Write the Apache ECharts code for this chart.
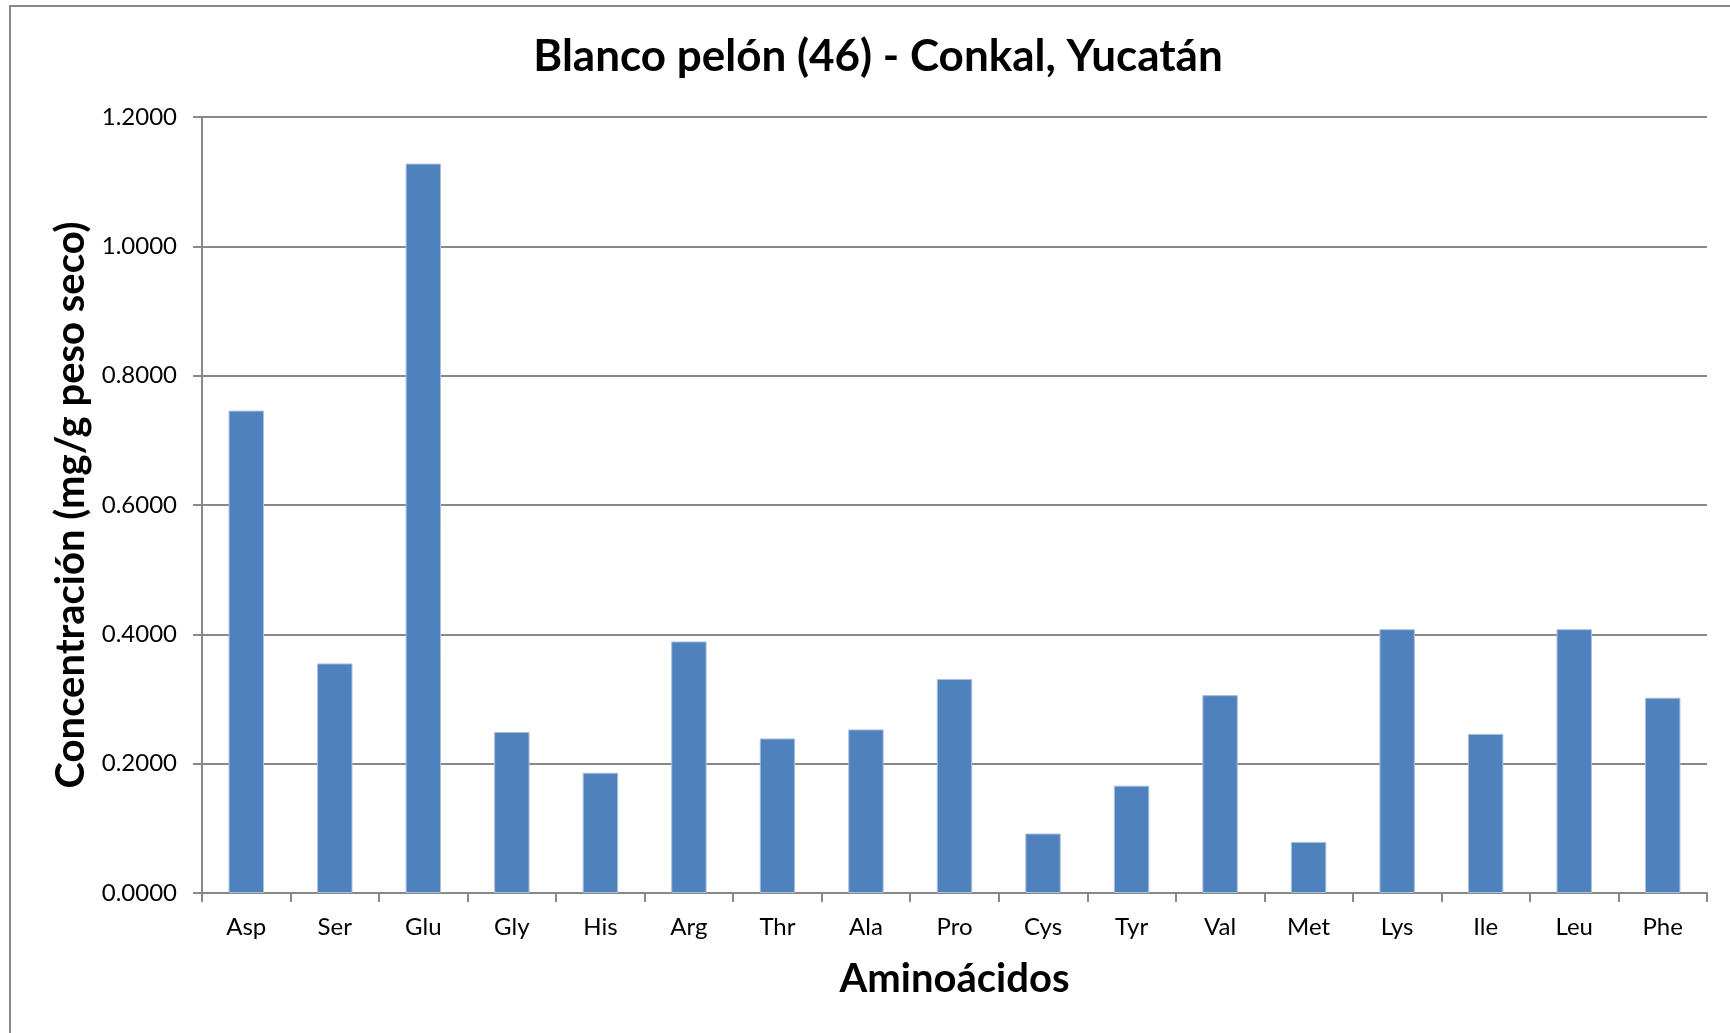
<!DOCTYPE html>
<html>
<head>
<meta charset="utf-8">
<script src="https://cdn.jsdelivr.net/npm/echarts@6/dist/echarts.min.js"></script>
<style>
  html, body { margin: 0; padding: 0; background: #fff; }
  #chart { width: 1730px; height: 1033px; }
</style>
</head>
<body>
<div id="chart"></div>
<script>
// amino acids on the x axis
const aminoacids = ["Asp", "Ser", "Glu", "Gly", "His", "Arg", "Thr", "Ala", "Pro",
  "Cys", "Tyr", "Val", "Met", "Lys", "Ile", "Leu", "Phe"];
// concentration, mg/g dry weight
const concentracion = [0.746, 0.355, 1.128, 0.249, 0.186, 0.389, 0.239, 0.253, 0.331,
  0.092, 0.166, 0.306, 0.079, 0.408, 0.246, 0.408, 0.302];
const yTicks = [0, 0.2, 0.4, 0.6, 0.8, 1.0, 1.2];

const chart = echarts.init(document.getElementById("chart"));
const font = "Lato, 'Open Sans', sans-serif";
const grey = "#888888";

const option = {
  backgroundColor: "#ffffff",
  animation: false,
  textStyle: { fontFamily: font },
  title: {
    text: "Blanco pelón (46) - Conkal, Yucatán",
    left: 873,
    top: 30,
    textAlign: "center",
    textStyle: { fontFamily: font, fontSize: 44, fontWeight: "bold", color: "#000" }
  },
  graphic: [
    {
      type: "rect",
      shape: { x: 10, y: 6, width: 1800, height: 1100 },
      style: { fill: "none", stroke: grey, lineWidth: 2 },
      silent: true
    }
  ],
  grid: { left: 202, right: 23, top: 117, bottom: 140 },
  xAxis: {
    type: "category",
    data: aminoacids,
    name: "Aminoácidos",
    nameLocation: "middle",
    nameGap: 66,
    nameTextStyle: { fontFamily: font, fontSize: 40, fontWeight: "bold", color: "#000" },
    axisLine: { lineStyle: { color: grey, width: 2 } },
    axisTick: { show: true, length: 9, lineStyle: { color: grey, width: 2 } },
    axisLabel: { margin: 22, fontSize: 24, color: "#000", fontFamily: font }
  },
  yAxis: {
    type: "value",
    min: yTicks[0],
    max: yTicks[yTicks.length - 1],
    interval: 0.2,
    name: "Concentración (mg/g peso seco)",
    nameLocation: "middle",
    nameGap: 108,
    nameTextStyle: { fontFamily: font, fontSize: 40, fontWeight: "bold", color: "#000" },
    axisLine: { show: true, lineStyle: { color: grey, width: 2 } },
    axisTick: { show: true, length: 9, lineStyle: { color: grey, width: 2 } },
    axisLabel: {
      margin: 25, fontSize: 24, color: "#000", fontFamily: font,
      formatter: v => v.toFixed(4)
    },
    splitLine: { show: true, lineStyle: { color: grey, width: 2 } }
  },
  series: [
    {
      type: "bar",
      data: concentracion,
      barCategoryGap: "60%",
      itemStyle: { color: "#4F81BD", borderColor: "#a9c0de", borderWidth: 1 }
    }
  ]
};
chart.setOption(option);
</script>
</body>
</html>
